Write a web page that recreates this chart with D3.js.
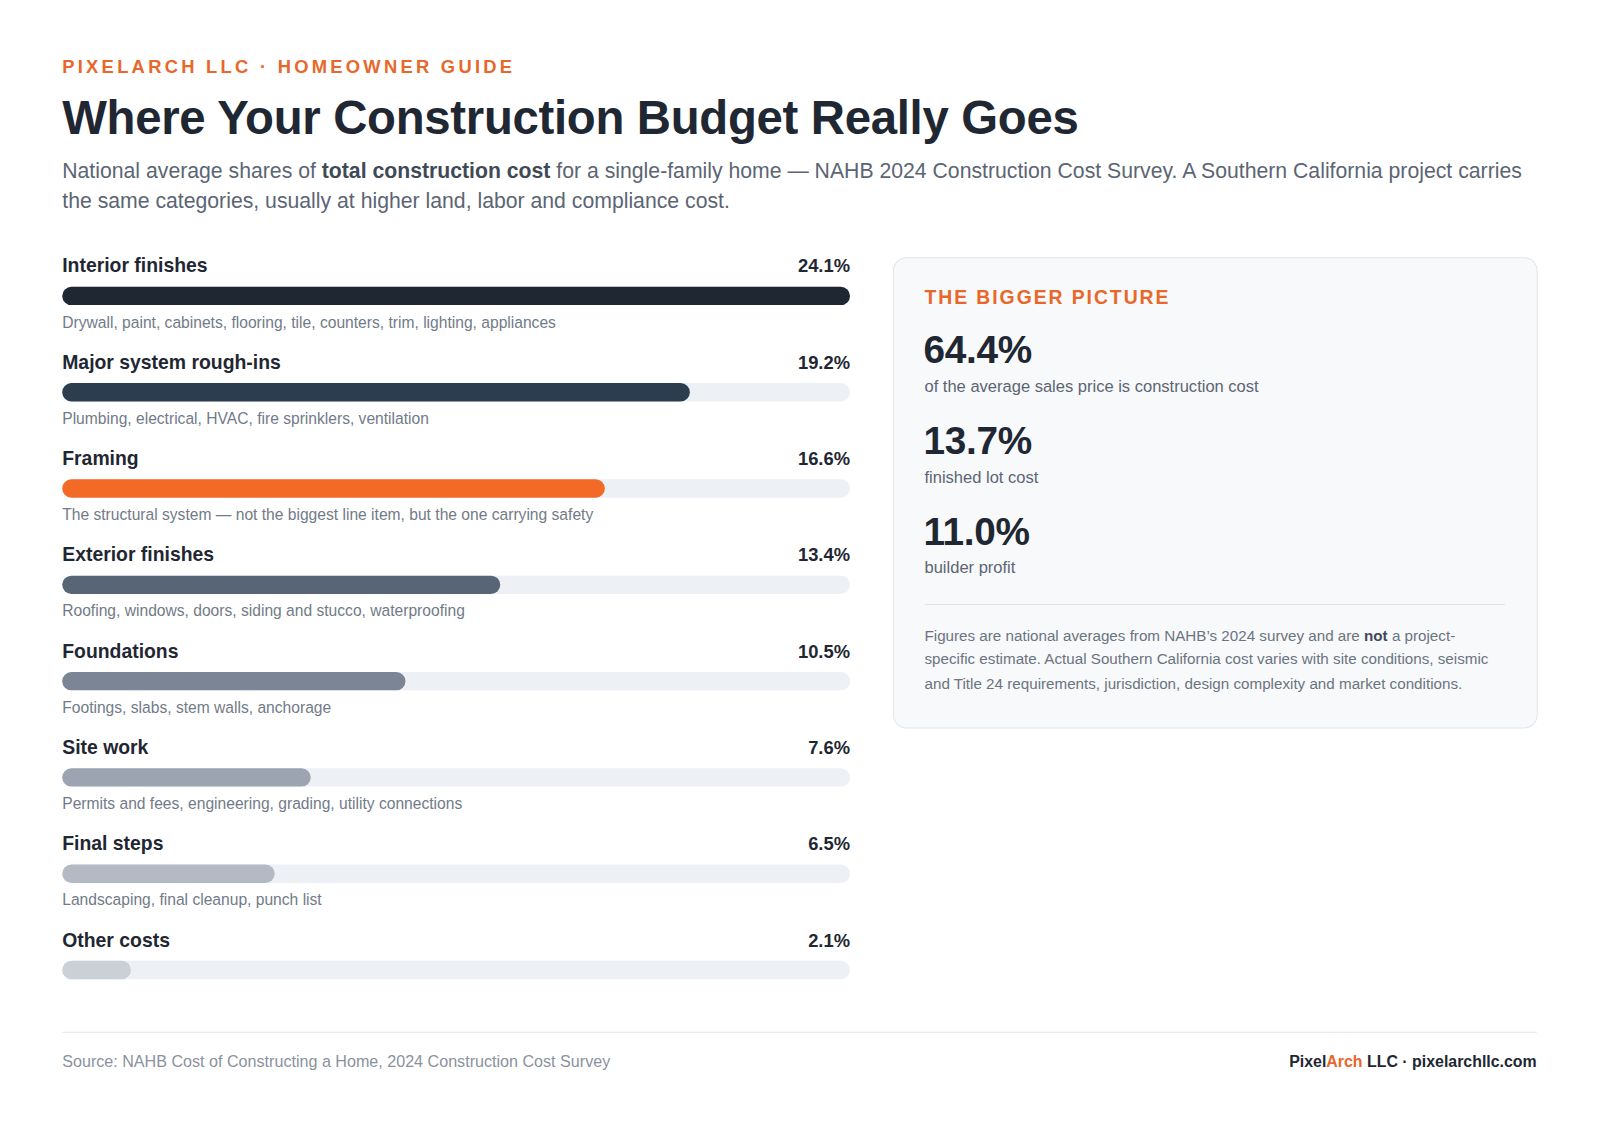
<!DOCTYPE html>
<html><head><meta charset="utf-8">
<script src="https://cdn.jsdelivr.net/npm/d3@7"></script>
<style>body{margin:0;background:#fff}svg{display:block;font-family:"Liberation Sans",Arial,sans-serif}</style>
</head><body><div id="vis"></div>
<script>
// data
let categories = ['Interior finishes','Major system rough-ins','Framing','Exterior finishes','Foundations','Site work','Final steps','Other costs']
let shares = [24.1,19.2,16.6,13.4,10.5,7.6,6.5,2.1]
let notes = ['Drywall, paint, cabinets, flooring, tile, counters, trim, lighting, appliances',
  'Plumbing, electrical, HVAC, fire sprinklers, ventilation',
  'The structural system \u2014 not the biggest line item, but the one carrying safety',
  'Roofing, windows, doors, siding and stucco, waterproofing',
  'Footings, slabs, stem walls, anchorage',
  'Permits and fees, engineering, grading, utility connections',
  'Landscaping, final cleanup, punch list', '']
let barColors = ['#1f2733','#2c3d50','#f26a26','#576577','#7b8595','#9ba4b0','#b4bac4','#cbd0d7']
let bigStats = ['64.4%','13.7%','11.0%']
let statLabels = ['of the average sales price is construction cost','finished lot cost','builder profit']

// drawn in a 1568-wide coordinate space, scaled up to the window
let svg = d3.select('#vis').append('svg').attr('width', 1600).attr('height', 1129)
  .attr('viewBox', '0 0 1568 1106.4')

// header
svg.append('text').attr('x',61).attr('y',72).attr('fill','#e8672a').attr('font-size',18).attr('font-weight',700)
  .attr('letter-spacing',3.2).text('PIXELARCH LLC \u00b7 HOMEOWNER GUIDE')
svg.append('text').attr('x',61).attr('y',131).attr('fill','#1f2733').attr('font-size',46.4).attr('font-weight',700)
  .attr('letter-spacing',-0.3).text('Where Your Construction Budget Really Goes')
let sub = svg.append('text').attr('x',61).attr('y',174).attr('fill','#5b6573').attr('font-size',20.8)
sub.append('tspan').text('National average shares of ')
sub.append('tspan').attr('font-weight',700).attr('fill','#404a57').text('total construction cost')
sub.append('tspan').text(' for a single-family home \u2014 NAHB 2024 Construction Cost Survey. A Southern California project carries')
svg.append('text').attr('x',61).attr('y',204).attr('fill','#5b6573').attr('font-size',20.8)
  .text('the same categories, usually at higher land, labor and compliance cost.')

// bars
let x = d3.scaleLinear().domain([0, d3.max(shares)]).range([61, 833])
let y = d3.scaleBand().domain(categories).range([252, 1007]).paddingInner(0)
let rows = svg.selectAll('g.row').data(categories).join('g').attr('class','row')
  .attr('transform', d => `translate(0,${y(d)})`)
rows.append('text').attr('x',61).attr('y',15).attr('font-size',19).attr('font-weight',700).attr('fill','#1f2733').text(d => d)
rows.append('text').attr('x',833).attr('y',15).attr('text-anchor','end').attr('font-size',18).attr('font-weight',700).attr('fill','#1f2733')
  .text((d,i) => shares[i].toFixed(1) + '%')
rows.append('rect').attr('x',61).attr('y',29).attr('height',18).attr('rx',9).attr('width',x(d3.max(shares))-61).attr('fill','#edf0f4')
rows.append('rect').attr('x',61).attr('y',29).attr('height',18).attr('rx',9).attr('width',(d,i) => x(shares[i])-61).attr('fill',(d,i) => barColors[i])
rows.append('text').attr('x',61).attr('y',69).attr('font-size',15.3).attr('fill','#727b87').text((d,i) => notes[i])

// panel
let p = svg.append('g')
p.append('rect').attr('x',875.5).attr('y',252.5).attr('width',631).attr('height',461).attr('rx',13)
  .attr('fill','#f8f9fb').attr('stroke','#e1e5ea')
p.append('text').attr('x',906).attr('y',298).attr('fill','#e8672a').attr('font-size',19).attr('font-weight',700)
  .attr('letter-spacing',1.9).text('THE BIGGER PICTURE')
bigStats.forEach((s,i) => {
  p.append('text').attr('x',905).attr('y',356+i*89).attr('font-size',38).attr('font-weight',700).attr('fill','#1f2733').attr('letter-spacing',-0.3).text(s)
  p.append('text').attr('x',906).attr('y',384+i*89).attr('font-size',16.2).attr('fill','#5b6573').text(statLabels[i])
})
p.append('line').attr('x1',906).attr('x2',1475).attr('y1',592.5).attr('y2',592.5).attr('stroke','#dfe3e8')
let n1 = p.append('text').attr('x',906).attr('y',628).attr('font-size',14.9).attr('fill','#6b7480')
n1.append('tspan').text('Figures are national averages from NAHB\u2019s 2024 survey and are ')
n1.append('tspan').attr('font-weight',700).attr('fill','#404a57').text('not')
n1.append('tspan').text(' a project-')
p.append('text').attr('x',906).attr('y',651).attr('font-size',14.9).attr('fill','#6b7480')
  .text('specific estimate. Actual Southern California cost varies with site conditions, seismic')
p.append('text').attr('x',906).attr('y',675).attr('font-size',14.9).attr('fill','#6b7480')
  .text('and Title 24 requirements, jurisdiction, design complexity and market conditions.')

// footer
svg.append('line').attr('x1',61).attr('x2',1506).attr('y1',1011.5).attr('y2',1011.5).attr('stroke','#e1e5ea')
svg.append('text').attr('x',61).attr('y',1046).attr('font-size',15.8).attr('fill','#8a929d')
  .text('Source: NAHB Cost of Constructing a Home, 2024 Construction Cost Survey')
let f = svg.append('text').attr('x',1506).attr('y',1046).attr('text-anchor','end').attr('font-size',15.6).attr('font-weight',700).attr('fill','#1f2733')
f.append('tspan').text('Pixel')
f.append('tspan').attr('fill','#e8672a').text('Arch')
f.append('tspan').text(' LLC \u00b7 pixelarchllc.com')
</script></body></html>
